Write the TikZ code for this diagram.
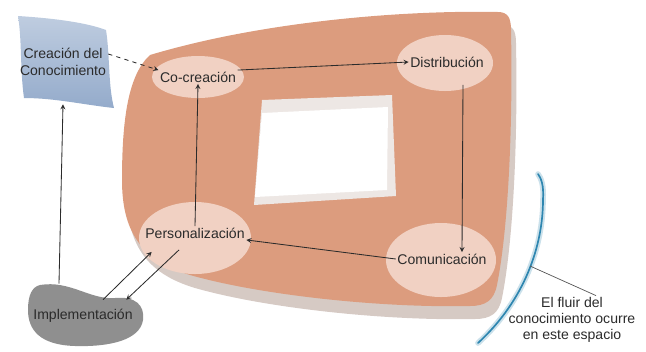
\documentclass[tikz,border=0pt]{standalone}
\usepackage{fontspec}
\setmainfont{Liberation Sans}
\usetikzlibrary{shapes.geometric, arrows, positioning, calc}

\definecolor{salmon}{HTML}{DC9C7E}
\definecolor{sombra}{HTML}{D6CAC4}
\definecolor{rosado}{HTML}{F1D1C3}
\definecolor{azulcaja}{HTML}{94ABCB}
\definecolor{grisbean}{HTML}{8F8F8F}
\definecolor{azularco}{HTML}{2E86B0}
\definecolor{linea}{HTML}{2B2B2B}

\newcommand{\contorno}{(150,55) .. controls (260,22) and (400,10) .. (498,12)
  .. controls (508,12) and (511,18) .. (511,30)
  .. controls (513,130) and (508,230) .. (497,285)
  .. controls (494,300) and (486,306) .. (470,306)
  .. controls (380,308) and (260,295) .. (190,275)
  .. controls (140,260) and (122,230) .. (122,180)
  .. controls (122,120) and (128,75) .. (150,55) -- cycle}

\begin{document}
\begin{tikzpicture}[x=0.025cm,y=-0.025cm,
				txt/.style={inner sep=1pt,align=center,text=linea,font=\fontsize{10}{12}\selectfont},
				elip/.style={ellipse,fill=rosado,draw=none},
				arr/.style={->,>=stealth,line width=0.6pt,draw=linea}
			]
			\useasboundingbox (0,0) rectangle (646,351);
			% cuerpo central
			\fill[sombra,shift={(5,13)}] \contorno;
			\fill[salmon] \contorno;
			\fill[sombra!45] (262,100) -- (392,95) -- (396,196) -- (254,205) -- cycle;
			\fill[white] (262,113) -- (388,107) -- (387,190) -- (255,197) -- cycle;
			% creacion
			\shade[top color=azulcaja!60,bottom color=azulcaja] (18,16) .. controls (50,18) and (85,22) .. (106,30)
				.. controls (110,55) and (108,85) .. (114,108) .. controls (85,105) and (55,98) .. (24,98)
				.. controls (20,70) and (22,40) .. (18,16) -- cycle;
			% implementacion
			\fill[grisbean] (40,285) .. controls (70,280) and (90,300) .. (115,298)
				.. controls (135,296) and (145,305) .. (143,320) .. controls (140,340) and (110,347) .. (75,346)
				.. controls (40,345) and (28,330) .. (28,310) .. controls (28,295) and (32,287) .. (40,285) -- cycle;
			% elipses
			\node[elip,minimum width=2.3cm,minimum height=1.05cm] (fcocrea) at (198,77) {};
			\node[elip,minimum width=2.4cm,minimum height=1.4cm] (fdistrib) at (445,63) {};
			\node[elip,minimum width=2.8cm,minimum height=1.8cm] (fperson) at (195,238) {};
			\node[elip,minimum width=2.75cm,minimum height=1.85cm] (fcomunic) at (441,260) {};
			% textos
			\node[txt,minimum width=2.25cm,minimum height=2.1cm] (crea) at (63,62) {Creación del\\Conocimiento};
			\node[txt] (cocrea) at (198,77) {Co-creación};
			\node[txt] (distrib) at (447,62) {Distribución};
			\node[txt] (person) at (195,233) {Personalización};
			\node[txt] (comunic) at (442,259) {Comunicación};
			\node[txt] (impl) at (83,316) {Implementación};
			\node[txt,font=\fontsize{10}{11.5}\selectfont] (nota) at (572,320) {El fluir del\\conocimiento ocurre\\en este espacio};
			% arco
			\draw[line width=4pt,draw=azularco!25,line cap=round] (478,343) .. controls (525,300) and (543,245) .. (543,200) .. controls (544,185) and (541,178) .. (538,174);
			\draw[line width=1.2pt,draw=azularco,line cap=round] (478,343) .. controls (525,300) and (543,245) .. (543,200) .. controls (544,185) and (541,178) .. (538,174);
			\coordinate (arcpt) at (530,266);
			% flechas
			\draw[arr,dashed] ([yshift=2mm]crea.east) -- (cocrea.north west);
			\draw[arr] (cocrea.north east) -- (distrib.west);
			\draw[arr] ([xshift=4mm,yshift=-4mm]distrib.south) -- ([xshift=5mm]comunic.north);
			\draw[arr] (comunic.west) -- (person.south east);
			\draw[arr] (person.north) -- (cocrea.south);
			\draw[arr] ([xshift=-6mm,yshift=6mm]impl.north) -- (crea.south);
			\draw[arr] ([xshift=5mm,yshift=2mm]impl.north) -- ([xshift=2mm,yshift=-3mm]person.south west);
			\draw[arr] ([xshift=-4mm,yshift=-2.5mm]person.south) -- ([xshift=-2mm,yshift=2mm]impl.north east);
			\draw[line width=0.5pt,draw=linea!80] ([xshift=6mm]nota.north) -- (arcpt);
			\end{tikzpicture}
\end{document}
